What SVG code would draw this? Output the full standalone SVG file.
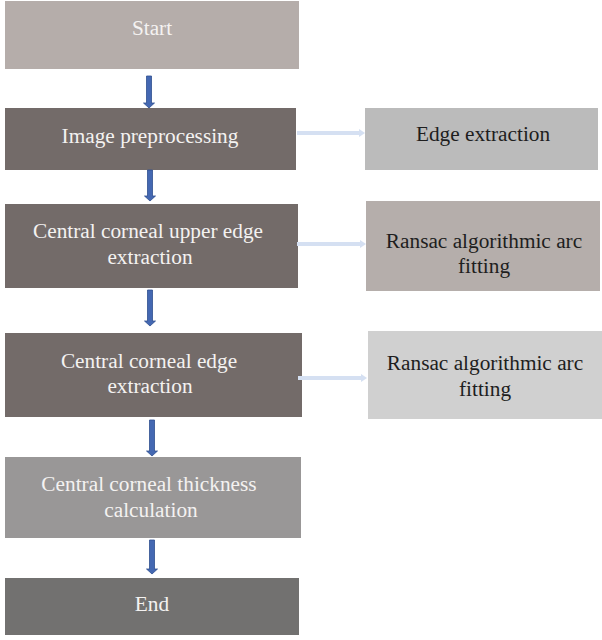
<svg xmlns="http://www.w3.org/2000/svg" width="602" height="640" viewBox="0 0 602 640">
<style>
text{font-family:"Liberation Serif","DejaVu Serif",serif;font-size:21.3px;text-anchor:middle}
.w{fill:#f4f2f1}
.d{fill:#1e1e1e}
.down{fill:#4468b2;stroke:#2f4f8f;stroke-width:0.8}
.side{fill:#d5e0f2}
</style>
<rect width="602" height="640" fill="#ffffff"/>
<g id="start"><rect x="5" y="1" width="294" height="68" fill="#b5adaa"/><text class="w" x="152" y="35">Start</text></g>
<g id="preprocess"><rect x="5" y="108" width="291" height="62" fill="#736b69"/><text class="w" x="150" y="143">Image preprocessing</text></g>
<g id="upper"><rect x="5" y="204" width="293" height="84" fill="#736b69"/><text class="w" x="148" y="238">Central corneal upper edge</text><text class="w" x="150" y="264">extraction</text></g>
<g id="edge"><rect x="5" y="333" width="297" height="84" fill="#736b69"/><text class="w" x="149" y="368">Central corneal edge</text><text class="w" x="150" y="393">extraction</text></g>
<g id="thickness"><rect x="5" y="457" width="296" height="81" fill="#999797"/><text class="w" x="149" y="491">Central corneal thickness</text><text class="w" x="151" y="517">calculation</text></g>
<g id="end"><rect x="5" y="578" width="294" height="57" fill="#727170"/><text class="w" x="152" y="611">End</text></g>
<g id="edgeext"><rect x="365" y="108" width="233" height="62" fill="#bbbbbb"/><text class="d" x="483" y="141">Edge extraction</text></g>
<g id="ransac1"><rect x="366" y="201" width="234" height="90" fill="#b5aeab"/><text class="d" x="484" y="248">Ransac algorithmic arc</text><text class="d" x="484" y="273">fitting</text></g>
<g id="ransac2"><rect x="368" y="331" width="234" height="88" fill="#d0d0d0"/><text class="d" x="485" y="370">Ransac algorithmic arc</text><text class="d" x="485" y="396">fitting</text></g>
<g id="connectors">
<path class="down" d="M146.5 76h5v27h3l-5.5 5l-5.5-5h3z"/>
<path class="down" d="M147.5 170h5v26h3l-5.5 5l-5.5-5h3z"/>
<path class="down" d="M147.5 290h5v31h3l-5.5 5l-5.5-5h3z"/>
<path class="down" d="M149.5 420h5v31h3l-5.5 5l-5.5-5h3z"/>
<path class="down" d="M149.5 540h5v29h3l-5.5 5l-5.5-5h3z"/>
<path class="side" d="M297 131h62v-2l6 4l-6 4v-2h-62z"/>
<path class="side" d="M297 242h63v-2l6 4l-6 4v-2h-63z"/>
<path class="side" d="M298 376h63v-2l6 4l-6 4v-2h-63z"/>
</g>
</svg>
